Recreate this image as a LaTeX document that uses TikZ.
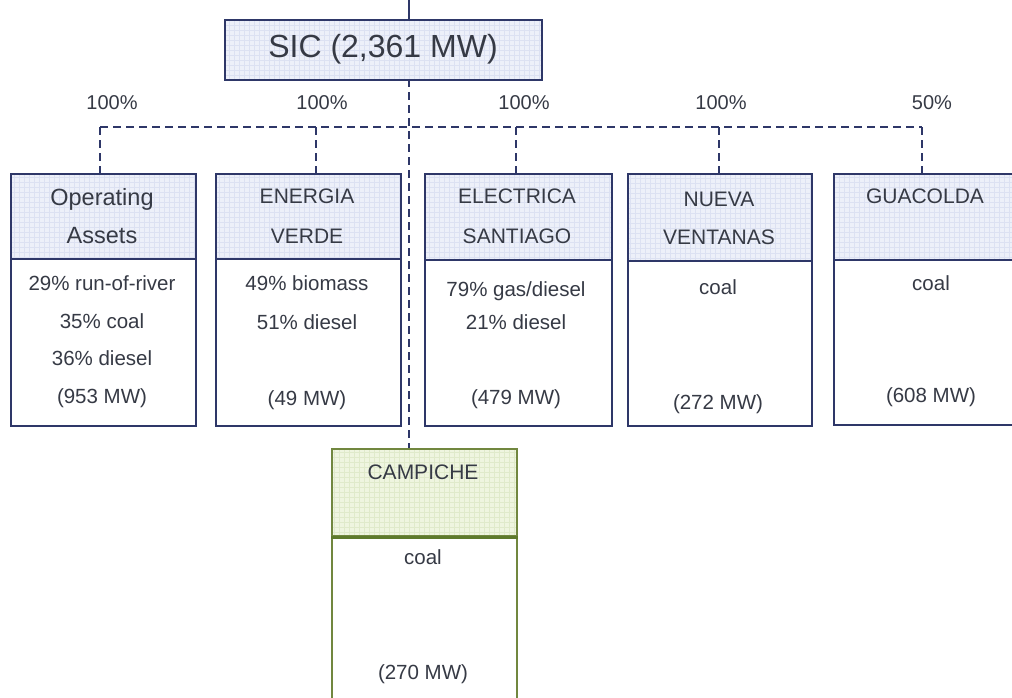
\documentclass[tikz,border=0pt]{standalone}
\usepackage{fontspec}
\setmainfont{Liberation Sans}
\definecolor{navy}{HTML}{2E3768}
\definecolor{hdrfill}{HTML}{EDF0F9}
\definecolor{gridb}{HTML}{DCE1F2}
\definecolor{olive}{HTML}{71873F}
\definecolor{oliveD}{HTML}{5E7A2C}
\definecolor{grnfill}{HTML}{EFF5E0}
\definecolor{gridg}{HTML}{E0EACB}
\definecolor{txt}{HTML}{363A45}
\begin{document}
\begin{tikzpicture}[x=1pt,y=-1pt,
  hdrbox/.style={draw=navy, line width=2.4pt, fill=hdrfill, anchor=north west, inner sep=0pt,
    path picture={\draw[gridb, line width=0.35pt, step=5pt] (path picture bounding box.south west) grid (path picture bounding box.north east);}},
  bodybox/.style={draw=navy, line width=2.4pt, fill=white, anchor=north west, inner sep=0pt},
  ghdrbox/.style={draw=olive, line width=2.2pt, fill=grnfill, anchor=north west, inner sep=0pt,
    path picture={\draw[gridg, line width=0.35pt, step=5pt] (path picture bounding box.south west) grid (path picture bounding box.north east);}},
  gbodybox/.style={draw=olive, line width=2.2pt, fill=white, anchor=north west, inner sep=0pt},
  htxt/.style={text=txt, font=\fontsize{21}{25}\selectfont, inner sep=0pt},
  hbig/.style={text=txt, font=\fontsize{23.5}{28}\selectfont, inner sep=0pt},
  btxt/.style={text=txt, font=\fontsize{20.5}{24}\selectfont, inner sep=0pt},
  pct/.style={text=txt, font=\fontsize{20}{24}\selectfont, inner sep=0pt},
  dashline/.style={navy, line width=2.3pt, dash pattern=on 8pt off 5pt}
]
\useasboundingbox (0,0) rectangle (1012,697);
\fill[white] (0,0) rectangle (1012,697);

% top box
\node[hdrbox, minimum width=317pt, minimum height=60pt] (sic) at (224,19) {};
\node[text=txt, font=\fontsize{32}{38}\selectfont, inner sep=0pt] (sict) at (383,49) {SIC (2,361 MW)};

% boxes: headers and bodies
\node[hdrbox, minimum width=185pt, minimum height=85pt] (oaH) at (10,173) {};
\node[bodybox, minimum width=185pt, minimum height=167pt] (oaB) at (10,258) {};
\node[hdrbox, minimum width=185pt, minimum height=85pt] (evH) at (215,173) {};
\node[bodybox, minimum width=185pt, minimum height=167pt] (evB) at (215,258) {};
\node[hdrbox, minimum width=187pt, minimum height=86pt] (esH) at (424,173) {};
\node[bodybox, minimum width=187pt, minimum height=166pt] (esB) at (424,259) {};
\node[hdrbox, minimum width=184pt, minimum height=87pt] (nvH) at (627,173) {};
\node[bodybox, minimum width=184pt, minimum height=165pt] (nvB) at (627,260) {};
\node[hdrbox, minimum width=190pt, minimum height=86pt] (guH) at (833,173) {};
\node[bodybox, minimum width=190pt, minimum height=165pt] (guB) at (833,259) {};
\node[ghdrbox, minimum width=185pt, minimum height=87pt] (caH) at (331,448) {};
\node[gbodybox, minimum width=185pt, minimum height=170pt] (caB) at (331,535) {};
\draw[oliveD, line width=3.2pt] (caH.south west) -- (caH.south east);

% header texts
\node[hbig] (t1a) at (102,199) {Operating};
\node[hbig] (t1b) at (102,236) {Assets};
\node[htxt] (t2a) at (307,196) {ENERGIA};
\node[htxt] (t2b) at (307,236) {VERDE};
\node[htxt] (t3a) at (517,196) {ELECTRICA};
\node[htxt] (t3b) at (517,236) {SANTIAGO};
\node[htxt] (t4a) at (719,199) {NUEVA};
\node[htxt] (t4b) at (719,237) {VENTANAS};
\node[htxt] (t5a) at (925,196) {GUACOLDA};
\node[htxt] (t6a) at (423,472) {CAMPICHE};

% body texts
\node[btxt] (b1a) at (102,283) {29\% run-of-river};
\node[btxt] (b1b) at (102,321) {35\% coal};
\node[btxt] (b1c) at (102,358) {36\% diesel};
\node[btxt] (b1d) at (102,398) {(953 MW)};
\node[btxt] (b2a) at (307,283) {49\% biomass};
\node[btxt] (b2b) at (307,322) {51\% diesel};
\node[btxt] (b2d) at (307,400) {(49 MW)};
\node[btxt] (b3a) at (516,291) {79\% gas/diesel};
\node[btxt] (b3b) at (516,322) {21\% diesel};
\node[btxt] (b3d) at (516,399) {(479 MW)};
\node[btxt] (b4a) at (718,287) {coal};
\node[btxt] (b4d) at (718,404) {(272 MW)};
\node[btxt] (b5a) at (931,283) {coal};
\node[btxt] (b5d) at (931,397) {(608 MW)};
\node[btxt] (b6a) at (423,557) {coal};
\node[btxt] (b6d) at (423,674) {(270 MW)};

% percent labels
\node[pct] (p1) at (112,103) {100\%};
\node[pct] (p2) at (322,103) {100\%};
\node[pct] (p3) at (524,103) {100\%};
\node[pct] (p4) at (721,103) {100\%};
\node[pct] (p5) at (932,103) {50\%};

% connectors
\coordinate (topc) at (409,0);
\coordinate (trunk) at (409,79);
\draw[navy, line width=2pt] (topc) -- (topc |- sic.north);
\draw[dashline] (trunk) -- (trunk |- caH.north);
\coordinate (d1) at (100,127);
\coordinate (d2) at (316,127);
\coordinate (d3) at (516,127);
\coordinate (d4) at (719,127);
\coordinate (d5) at (922,127);
\draw[dashline] (d1) -- (d5);
\draw[dashline] (d1) -- (d1 |- oaH.north);
\draw[dashline] (d2) -- (d2 |- evH.north);
\draw[dashline] (d3) -- (d3 |- esH.north);
\draw[dashline] (d4) -- (d4 |- nvH.north);
\draw[dashline] (d5) -- (d5 |- guH.north);
\end{tikzpicture}
\end{document}
